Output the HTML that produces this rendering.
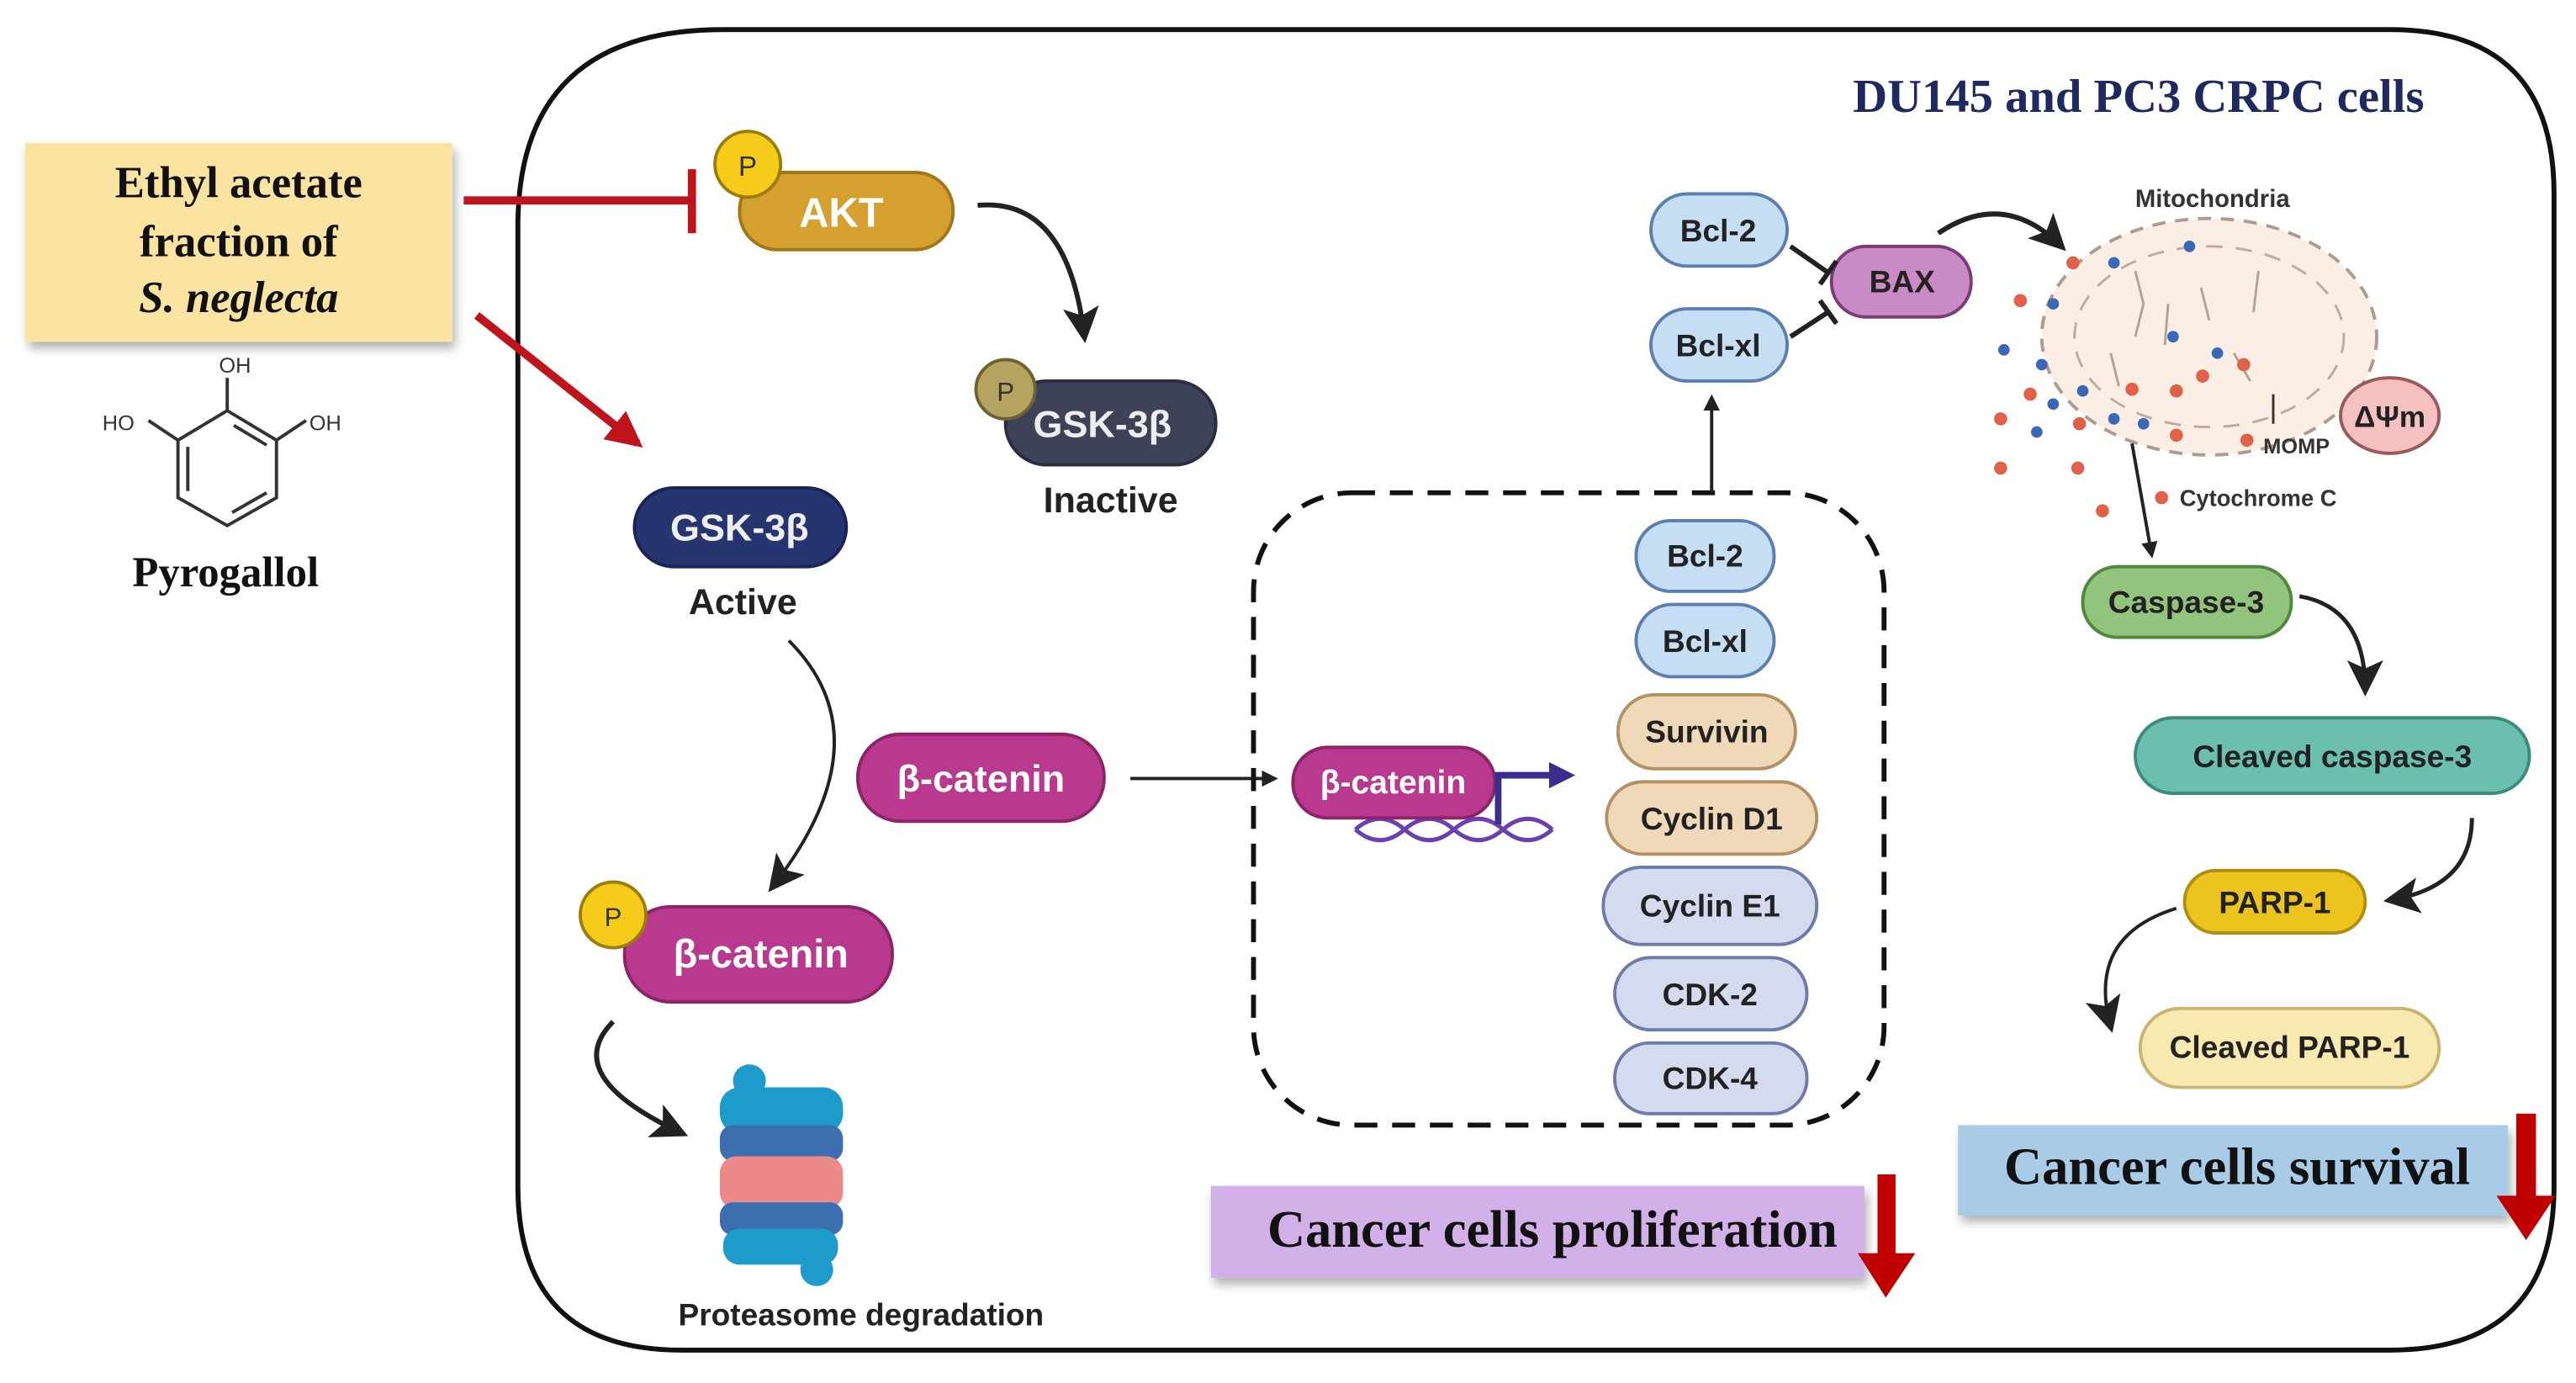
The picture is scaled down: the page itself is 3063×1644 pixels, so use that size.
<!DOCTYPE html>
<html><head><meta charset="utf-8"><style>html,body{margin:0;padding:0;background:#fff}svg{display:block}</style></head>
<body>
<svg width="3063" height="1644" viewBox="0 0 1568 842" xmlns="http://www.w3.org/2000/svg">
<defs>
<marker id="ah" markerWidth="10" markerHeight="10" refX="8" refY="5" orient="auto" markerUnits="userSpaceOnUse"><path d="M0,0 L10,5 L0,10 z" fill="#222"/></marker>
<marker id="ahB" markerWidth="22" markerHeight="22" refX="18" refY="11" orient="auto" markerUnits="userSpaceOnUse"><path d="M0,0 L22,11 L0,22 L5,11 z" fill="#222"/></marker>
<marker id="ahR" markerWidth="22" markerHeight="22" refX="18" refY="11" orient="auto" markerUnits="userSpaceOnUse"><path d="M0,0 L22,11 L0,22 z" fill="#c0141c"/></marker>
<marker id="ahP" markerWidth="16" markerHeight="16" refX="12" refY="8" orient="auto" markerUnits="userSpaceOnUse"><path d="M0,0 L16,8 L0,16 z" fill="#3b2e8a"/></marker>
<filter id="sh" x="-10%" y="-10%" width="130%" height="140%"><feDropShadow dx="2" dy="4" stdDeviation="3" flood-opacity="0.3"/></filter>
</defs>
<g font-family="Liberation Sans, sans-serif" font-weight="bold">
<path d="M440,18 L1455,18 Q1555,18 1555,118 L1555,722 Q1555,822 1455,822 L415,822 Q315,822 315,722 L315,138 Q315,18 440,18 Z" fill="none" stroke="#111" stroke-width="3"/>
<text x="1302" y="68" font-family="Liberation Serif, serif" font-size="29" fill="#1e2a5e" text-anchor="middle">DU145 and PC3 CRPC cells</text>

<rect x="15" y="87" width="260" height="121" fill="#fbe3a2" filter="url(#sh)"/>
<g font-family="Liberation Serif, serif" font-size="27" fill="#111" text-anchor="middle">
<text x="145" y="120">Ethyl acetate</text>
<text x="145" y="156">fraction of</text>
<text x="145" y="190" font-style="italic">S. neglecta</text>
<text x="137" y="357" font-size="26">Pyrogallol</text>
</g>
<g stroke="#333" stroke-width="2" fill="none">
<path d="M138,250 L168,268 L168,303 L138,320 L108,303 L108,268 Z"/>
<path d="M142,259 L162,271 M162,300 L141,312 M114,272 L114,299"/>
<path d="M138,250 L138,230 M168,268 L186,256 M108,268 L90,256"/>
</g>
<g font-size="13" font-weight="normal" fill="#333"><text x="133" y="227">OH</text><text x="62" y="262">HO</text><text x="188" y="262">OH</text></g>

<line x1="282" y1="122" x2="420" y2="122" stroke="#c0141c" stroke-width="5"/>
<line x1="421" y1="103" x2="421" y2="142" stroke="#c0141c" stroke-width="5"/>
<line x1="290" y1="192" x2="388" y2="270" stroke="#c0141c" stroke-width="5" marker-end="url(#ahR)"/>

<rect x="450" y="105" width="130" height="47" rx="23" fill="#d4a030" stroke="#a37617" stroke-width="2"/>
<text x="512" y="138" font-size="25" fill="#fff" text-anchor="middle">AKT</text>
<circle cx="455" cy="100" r="20" fill="#f5cc1a" stroke="#9d7d0a" stroke-width="2"/>
<text x="455" y="107" font-size="17" font-weight="normal" fill="#333" text-anchor="middle">P</text>
<path d="M595,125 Q650,120 660,205" fill="none" stroke="#222" stroke-width="3" marker-end="url(#ahB)"/>

<rect x="612" y="232" width="128" height="51" rx="25" fill="#3d4258" stroke="#2a2e40" stroke-width="2"/>
<text x="671" y="266" font-size="23" fill="#eee" text-anchor="middle">GSK-3β</text>
<circle cx="612" cy="237" r="18" fill="#b5a461" stroke="#6e6330" stroke-width="2"/>
<text x="612" y="244" font-size="16" font-weight="normal" fill="#333" text-anchor="middle">P</text>
<text x="676" y="312" font-size="22" fill="#222" text-anchor="middle">Inactive</text>

<rect x="386" y="297" width="129" height="48" rx="24" fill="#263570" stroke="#1b2555" stroke-width="2"/>
<text x="450" y="329" font-size="23" fill="#eee" text-anchor="middle">GSK-3β</text>
<text x="452" y="374" font-size="22" fill="#222" text-anchor="middle">Active</text>
<path d="M480,390 Q540,450 470,540" fill="none" stroke="#222" stroke-width="2" marker-end="url(#ahB)"/>

<rect x="522" y="447" width="150" height="53" rx="26" fill="#b8398e" stroke="#8c2468" stroke-width="2"/>
<text x="597" y="482" font-size="23" fill="#fff" text-anchor="middle">β-catenin</text>
<line x1="688" y1="474" x2="776" y2="474" stroke="#222" stroke-width="2" marker-end="url(#ah)"/>

<rect x="380" y="552" width="163" height="58" rx="28" fill="#b8398e" stroke="#8c2468" stroke-width="2"/>
<text x="463" y="589" font-size="24" fill="#fff" text-anchor="middle">β-catenin</text>
<circle cx="373" cy="557" r="20" fill="#f5cc1a" stroke="#9d7d0a" stroke-width="2"/>
<text x="373" y="564" font-size="16" font-weight="normal" fill="#333" text-anchor="middle">P</text>
<path d="M373,622 Q340,655 415,690" fill="none" stroke="#222" stroke-width="3" marker-end="url(#ahB)"/>

<g>
<rect x="438" y="662" width="75" height="28" rx="12" fill="#1d9ccc"/>
<rect x="438" y="685" width="75" height="22" rx="8" fill="#3c6fb0"/>
<rect x="438" y="704" width="75" height="32" rx="10" fill="#ec8a8a"/>
<rect x="438" y="732" width="75" height="20" rx="8" fill="#3c6fb0"/>
<rect x="440" y="748" width="70" height="22" rx="10" fill="#1d9ccc"/>
<circle cx="456" cy="658" r="10" fill="#1d9ccc"/><circle cx="449" cy="672" r="9" fill="#1d9ccc"/>
<circle cx="497" cy="773" r="10" fill="#1d9ccc"/>
</g>
<text x="524" y="807" font-size="19" fill="#222" text-anchor="middle">Proteasome degradation</text>

<rect x="763" y="300" width="384" height="385" rx="60" fill="none" stroke="#111" stroke-width="3" stroke-dasharray="14,9"/>
<path d="M825,505 Q840,492 855,505 T885,505 T915,505 T945,505 M825,505 Q840,518 855,505 T885,505 T915,505 T945,505" fill="none" stroke="#6a3fb0" stroke-width="2.5"/>
<rect x="787" y="455" width="123" height="43" rx="21" fill="#b8398e" stroke="#8c2468" stroke-width="2"/>
<text x="848" y="483" font-size="20" fill="#fff" text-anchor="middle">β-catenin</text>
<path d="M912,502 L912,472 L955,472" fill="none" stroke="#3b2e8a" stroke-width="4" marker-end="url(#ahP)"/>

<g font-size="19" fill="#222" text-anchor="middle" stroke-width="2">
<rect x="996" y="317" width="84" height="43" rx="21" fill="#c6def4" stroke="#5a7fb0"/><text x="1038" y="345">Bcl-2</text>
<rect x="996" y="368" width="84" height="44" rx="22" fill="#c6def4" stroke="#5a7fb0"/><text x="1038" y="397">Bcl-xl</text>
<rect x="985" y="423" width="108" height="45" rx="22" fill="#f0d9b8" stroke="#b49065"/><text x="1039" y="452">Survivin</text>
<rect x="978" y="476" width="128" height="44" rx="22" fill="#f0d9b8" stroke="#b49065"/><text x="1042" y="505">Cyclin D1</text>
<rect x="976" y="528" width="130" height="47" rx="23" fill="#d5dbef" stroke="#6e7ba8"/><text x="1041" y="558">Cyclin E1</text>
<rect x="983" y="583" width="117" height="44" rx="22" fill="#d5dbef" stroke="#6e7ba8"/><text x="1041" y="612">CDK-2</text>
<rect x="983" y="635" width="117" height="43" rx="21" fill="#d5dbef" stroke="#6e7ba8"/><text x="1041" y="663">CDK-4</text>
<rect x="1005" y="118" width="83" height="44" rx="22" fill="#c6def4" stroke="#5a7fb0"/><text x="1046" y="147">Bcl-2</text>
<rect x="1005" y="188" width="83" height="44" rx="22" fill="#c6def4" stroke="#5a7fb0"/><text x="1046" y="217">Bcl-xl</text>
<rect x="1115" y="150" width="85" height="43" rx="21" fill="#c98ac6" stroke="#7a3d78"/><text x="1158" y="178">BAX</text>
</g>
<line x1="1042" y1="300" x2="1042" y2="242" stroke="#222" stroke-width="2" marker-end="url(#ah)"/>
<g stroke="#222" stroke-width="3">
<line x1="1090" y1="150" x2="1113" y2="166"/><line x1="1108" y1="173" x2="1118" y2="159"/>
<line x1="1090" y1="205" x2="1113" y2="190"/><line x1="1108" y1="183" x2="1118" y2="197"/>
</g>
<path d="M1180,142 Q1220,115 1255,150" fill="none" stroke="#222" stroke-width="3" marker-end="url(#ahB)"/>

<text x="1347" y="126" font-size="15" fill="#333" text-anchor="middle">Mitochondria</text>
<ellipse cx="1345" cy="205" rx="102" ry="72" fill="#fbeee4" stroke="#b09a90" stroke-width="2" stroke-dasharray="8,6"/>
<ellipse cx="1345" cy="205" rx="82" ry="55" fill="none" stroke="#c0aaa0" stroke-width="1.5" stroke-dasharray="10,8"/>
<g stroke="#b8a098" stroke-width="1.5" fill="none">
<path d="M1300,165 L1305,185 L1300,205 M1340,175 L1345,195 M1375,165 L1372,190 M1285,215 L1290,235 M1360,215 L1370,232 M1320,185 L1318,210"/>
</g>
<g fill="#3a68b8">
<circle cx="1287" cy="160" r="3.5"/><circle cx="1333" cy="150" r="3.5"/><circle cx="1250" cy="185" r="3.5"/><circle cx="1220" cy="213" r="3.5"/><circle cx="1243" cy="222" r="3.5"/><circle cx="1268" cy="238" r="3.5"/><circle cx="1323" cy="205" r="3.5"/><circle cx="1250" cy="246" r="3.5"/><circle cx="1240" cy="263" r="3.5"/><circle cx="1287" cy="255" r="3.5"/><circle cx="1305" cy="258" r="3.5"/><circle cx="1350" cy="215" r="3.5"/>
</g>
<g fill="#e0604a">
<circle cx="1262" cy="160" r="4"/><circle cx="1230" cy="183" r="4"/><circle cx="1236" cy="240" r="4"/><circle cx="1218" cy="255" r="4"/><circle cx="1266" cy="258" r="4"/><circle cx="1325" cy="238" r="4"/><circle cx="1341" cy="229" r="4"/><circle cx="1366" cy="222" r="4"/><circle cx="1298" cy="237" r="4"/><circle cx="1218" cy="285" r="4"/><circle cx="1265" cy="285" r="4"/><circle cx="1280" cy="311" r="4"/><circle cx="1325" cy="265" r="4"/><circle cx="1368" cy="268" r="4"/><circle cx="1316" cy="303" r="4"/>
</g>
<line x1="1384" y1="240" x2="1384" y2="258" stroke="#333" stroke-width="1.5"/>
<text x="1378" y="276" font-size="13" fill="#333">MOMP</text>
<ellipse cx="1455" cy="253" rx="30" ry="23" fill="#f4c1c0" stroke="#9a5a5a" stroke-width="2"/>
<text x="1455" y="260" font-size="18" fill="#222" text-anchor="middle">ΔΨm</text>
<text x="1327" y="308" font-size="14" fill="#333">Cytochrome C</text>
<line x1="1298" y1="270" x2="1310" y2="338" stroke="#222" stroke-width="2" marker-end="url(#ah)"/>

<g font-size="19" fill="#222" text-anchor="middle" stroke-width="2">
<rect x="1268" y="345" width="127" height="43" rx="21" fill="#93c47d" stroke="#4f8a3c"/><text x="1331" y="373">Caspase-3</text>
<rect x="1300" y="437" width="240" height="46" rx="23" fill="#6abfae" stroke="#3d8a7e"/><text x="1420" y="467">Cleaved caspase-3</text>
<rect x="1330" y="530" width="110" height="38" rx="19" fill="#ecc31f" stroke="#b08f10"/><text x="1385" y="556">PARP-1</text>
<rect x="1303" y="614" width="182" height="48" rx="24" fill="#f8e9b0" stroke="#c9b470"/><text x="1394" y="644">Cleaved PARP-1</text>
</g>
<path d="M1400,363 Q1440,370 1440,420" fill="none" stroke="#222" stroke-width="2.5" marker-end="url(#ahB)"/>
<path d="M1505,498 Q1505,540 1455,548" fill="none" stroke="#222" stroke-width="2.5" marker-end="url(#ahB)"/>
<path d="M1325,553 Q1270,570 1285,625" fill="none" stroke="#222" stroke-width="2" marker-end="url(#ahB)"/>

<rect x="737" y="722" width="398" height="56" fill="#d2b0e8" filter="url(#sh)"/>
<text x="945" y="759" font-family="Liberation Serif, serif" font-size="32" fill="#111" text-anchor="middle">Cancer cells proliferation</text>
<rect x="1143" y="715" width="11" height="50" fill="#c00000"/><path d="M1131,763 L1166,763 L1148,790 Z" fill="#c00000"/>
<rect x="1192" y="685" width="335" height="55" fill="#a8cbe8" filter="url(#sh)"/>
<text x="1362" y="721" font-family="Liberation Serif, serif" font-size="32" fill="#111" text-anchor="middle">Cancer cells survival</text>
<rect x="1532" y="678" width="12" height="52" fill="#c00000"/><path d="M1520,728 L1556,728 L1538,755 Z" fill="#c00000"/>
</g>
</svg>
</body></html>
